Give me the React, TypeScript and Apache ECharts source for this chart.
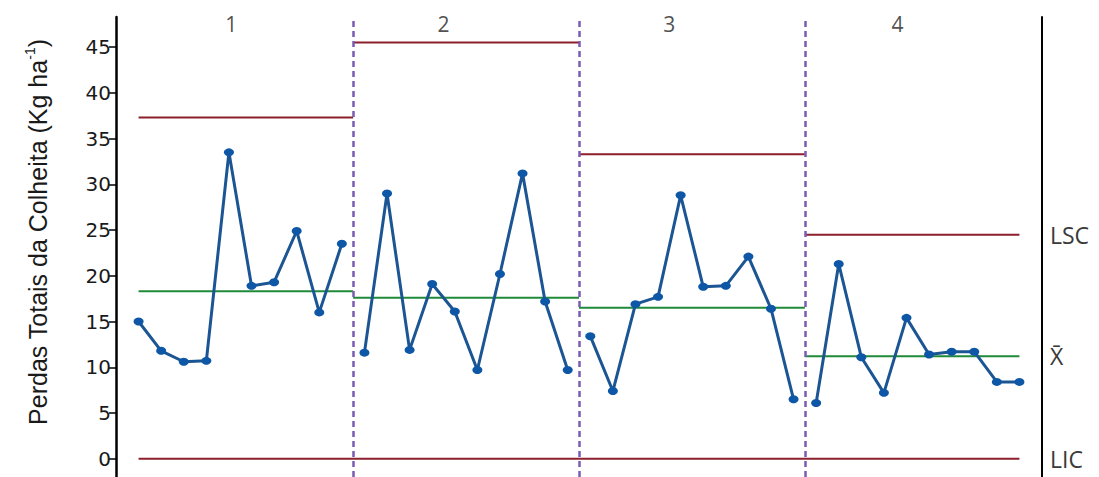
import React, { useEffect, useRef } from "react";
import * as echarts from "echarts";

// Perdas totais por amostra (40 amostras, 4 fases)
const lossValues = [
  15.0, 11.8, 10.6, 10.7, 33.5, 18.9, 19.3, 24.9, 16.0, 23.5,
  11.6, 29.0, 11.9, 19.1, 16.1, 9.7, 20.2, 31.2, 17.2, 9.7,
  13.4, 7.4, 16.9, 17.7, 28.8, 18.8, 18.9, 22.1, 16.4, 6.5,
  6.1, 21.3, 11.1, 7.2, 15.4, 11.4, 11.7, 11.7, 8.4, 8.4,
];

const segmentLabels = ["1", "2", "3", "4"];
const segmentSizes = [10, 10, 10, 10];
const segmentBounds = [1, 10.5, 20.5, 30.5, 40];
const segmentLabelPos = [5.1, 14.5, 24.5, 34.6];
const lscValues = [37.3, 45.5, 33.3, 24.5];
const meanValues = [18.3, 17.6, 16.5, 11.2];
const licValues = [0, 0, 0, 0];
const phaseDividers = [10.5, 20.5, 30.5];

const yTicks = [0, 5, 10, 15, 20, 25, 30, 35, 40, 45];
const rightLabels = ["LSC", "X\u0304", "LIC"];
const rightLabelValues = [lscValues[3], meanValues[3], licValues[3]];

const RED = "#8b1f2c";
const GREEN = "#1f8a3a";
const PURPLE = "#7b5cb2";
const BLUE = "#0d57a6";

function limitSeries(values: number[], color: string, name: string) {
  return values.map((v, i) => ({
    type: "line",
    name: name + i,
    data: [
      [segmentBounds[i], v],
      [segmentBounds[i + 1], v],
    ],
    symbol: "none",
    silent: true,
    lineStyle: { color, width: 2 },
    z: 2,
  }));
}

function phaseSeries() {
  const out: any[] = [];
  let start = 0;
  segmentSizes.forEach((n, s) => {
    const pts = lossValues.slice(start, start + n).map((v, j) => [start + j + 1, v]);
    out.push({
      type: "line",
      name: "perdas" + s,
      data: pts,
      symbol: "circle",
      symbolSize: [10, 8],
      itemStyle: { color: BLUE },
      lineStyle: { color: "#1b5593", width: 3 },
      z: 4,
    });
    start += n;
  });
  return out;
}

export default function App() {
  const ref = useRef<HTMLDivElement>(null);
  useEffect(() => {
    if (!ref.current) return;
    const chart = echarts.init(ref.current, null, { renderer: "svg" });
    const option: any = {
      animation: false,
      backgroundColor: "#ffffff",
      grid: { left: 116, right: 57, top: 17, bottom: 0 },
      xAxis: {
        type: "value",
        min: 0,
        max: 41,
        show: false,
      },
      yAxis: [
        {
          type: "value",
          min: -2,
          max: 48.3,
          position: "left",
          axisLine: { show: true, onZero: false, lineStyle: { color: "#000", width: 2.5 } },
          axisTick: { show: true, customValues: yTicks, length: 7, lineStyle: { color: "#000", width: 1.5 } },
          axisLabel: {
            customValues: yTicks,
            fontSize: 20,
            fontFamily: "DejaVu Sans",
            color: "#1a1a1a",
            margin: 5,
          },
          splitLine: { show: false },
        },
        {
          type: "value",
          min: -2,
          max: 48.3,
          position: "right",
          axisLine: { show: true, onZero: false, lineStyle: { color: "#000", width: 2 } },
          axisTick: { show: false },
          axisLabel: {
            customValues: rightLabelValues,
            formatter: (v: number) => {
              let best = 0;
              rightLabelValues.forEach((rv, i) => {
                if (Math.abs(rv - v) < Math.abs(rightLabelValues[best] - v)) best = i;
              });
              return rightLabels[best];
            },
            fontSize: 23,
            fontFamily: "Open Sans",
            color: "#3a3a3a",
            margin: 8,
          },
          splitLine: { show: false },
        },
      ],
      graphic: [
        {
          type: "text",
          x: 38,
          y: 232,
          rotation: Math.PI / 2,
          style: {
            text: "{a|Perdas Totais da Colheita (Kg ha}{b|-1}{a|)}",
            align: "center",
            verticalAlign: "middle",
            rich: {
              a: { fontSize: 25, fontFamily: "Liberation Sans", fill: "#1a1a1a", color: "#1a1a1a" },
              b: { fontSize: 14, fontFamily: "Liberation Sans", fill: "#1a1a1a", color: "#1a1a1a", padding: [0, 0, 16, 0] },
            },
          },
        },
      ],
      series: [
        ...limitSeries(lscValues, RED, "lsc"),
        ...limitSeries(meanValues, GREEN, "mean"),
        {
          type: "line",
          name: "lic",
          data: [
            [segmentBounds[0], licValues[0]],
            [segmentBounds[4], licValues[3]],
          ],
          symbol: "none",
          silent: true,
          lineStyle: { color: RED, width: 2 },
          z: 2,
          markLine: {
            silent: true,
            symbol: ["none", "none"],
            label: { show: false },
            lineStyle: { color: PURPLE, type: [6, 4], width: 2.5 },
            data: phaseDividers.map((x) => ({ xAxis: x })),
            z: 6,
          },
        },
        ...phaseSeries(),
        {
          type: "scatter",
          name: "fases",
          data: segmentLabelPos.map((x, i) => ({ value: [x, 47.5], name: segmentLabels[i] })),
          symbolSize: 1,
          itemStyle: { color: "rgba(0,0,0,0)" },
          silent: true,
          label: {
            show: true,
            position: "inside",
            formatter: "{b}",
            fontSize: 21,
            fontFamily: "Open Sans",
            color: "#222",
          },
        },
      ],
    };
    chart.setOption(option);
    return () => chart.dispose();
  }, []);
  return (
    <div
      ref={ref}
      style={{ position: "fixed", left: 0, top: 0, width: 1099, height: 477, background: "#fff" }}
    />
  );
}
